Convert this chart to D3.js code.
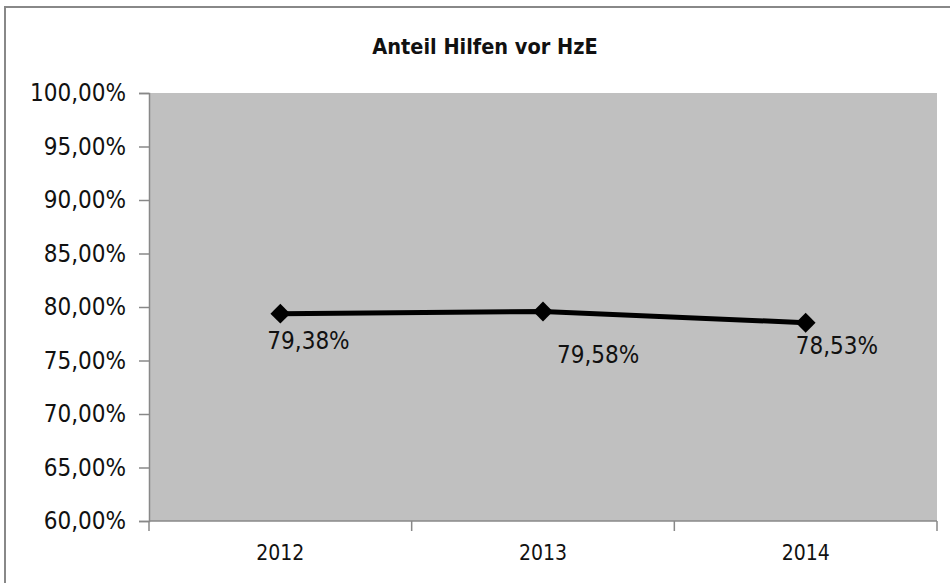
<!DOCTYPE html>
<html>
<head>
<meta charset="utf-8">
<script src="https://cdn.jsdelivr.net/npm/d3@7"></script>
<style>
  body { margin: 0; background: #fff; }
  .num { font-family: "DejaVu Sans Condensed", "DejaVu Sans", sans-serif; font-stretch: condensed; font-size: 24px; fill: #111; }
  .narrow { font-family: "Liberation Sans Narrow", "DejaVu Sans Condensed", sans-serif; font-stretch: condensed; fill: #111; }
</style>
</head>
<body>
<div id="chart"></div>
<script>
const title = "Anteil Hilfen vor HzE"
const years = ["2012", "2013", "2014"]
const shares = [79.38, 79.58, 78.53]
const yTicks = [60, 65, 70, 75, 80, 85, 90, 95, 100]

// where excel put the data labels, relative to the marker
const labelOffsets = [[-13, 35], [14, 52], [-10, 31]]

const W = 950, H = 583
const margin = { top: 93, right: 13, bottom: 62, left: 149 },
    width = W - margin.left - margin.right,
    height = H - margin.top - margin.bottom

const fmt = v => v.toFixed(2).replace(".", ",") + "%"

var svg = d3.select("#chart")
    .append("svg")
    .attr("width", W)
    .attr("height", H)

// outer chart frame
svg.append("rect")
    .attr("x", 5).attr("y", 7)
    .attr("width", W + 10).attr("height", H + 10)
    .attr("fill", "none")
    .attr("stroke", "#888")
    .attr("stroke-width", 2)

svg.append("text")
    .attr("class", "narrow")
    .attr("x", 485).attr("y", 54)
    .attr("text-anchor", "middle")
    .style("font-size", "21.5px")
    .style("font-weight", "bold")
    .text(title)

var g = svg.append("g")
    .attr("transform", "translate(" + margin.left + "," + margin.top + ")")

var x = d3.scaleBand()
    .domain(years)
    .range([0, width])

var y = d3.scaleLinear()
    .domain([60, 100])
    .range([height, 0])

// plot area
g.append("rect")
    .attr("width", width)
    .attr("height", height)
    .attr("fill", "#c0c0c0")

// Y axis
var yAxis = g.append("g")
    .call(d3.axisLeft(y).tickValues(yTicks).tickSize(10).tickPadding(13).tickFormat(fmt))
yAxis.select(".domain").attr("stroke", "#888").attr("stroke-width", 1.5)
yAxis.selectAll("line").attr("stroke", "#888").attr("stroke-width", 1.5)
yAxis.selectAll("text").attr("class", "num").attr("font-family", null).attr("font-size", null)

// X axis, ticks between the categories
var xAxis = g.append("g")
    .attr("transform", "translate(0," + height + ")")
xAxis.append("line")
    .attr("x1", 0).attr("x2", width)
    .attr("stroke", "#888").attr("stroke-width", 1.5)
xAxis.selectAll("tick")
    .data(years.concat(["end"]))
    .enter()
    .append("line")
    .attr("x1", (d, i) => i < years.length ? x(d) : width)
    .attr("x2", (d, i) => i < years.length ? x(d) : width)
    .attr("y1", 0).attr("y2", 10)
    .attr("stroke", "#888").attr("stroke-width", 1.5)
xAxis.selectAll("label")
    .data(years)
    .enter()
    .append("text")
    .attr("class", "narrow")
    .attr("x", d => x(d) + x.bandwidth() / 2)
    .attr("y", 39)
    .attr("text-anchor", "middle")
    .style("font-size", "21px")
    .text(d => d)

const cx = i => x(years[i]) + x.bandwidth() / 2

// line
g.append("path")
    .datum(shares)
    .attr("fill", "none")
    .attr("stroke", "#000")
    .attr("stroke-width", 5)
    .attr("d", d3.line().x((d, i) => cx(i)).y(d => y(d)))

// diamond markers
g.selectAll("mark")
    .data(shares)
    .enter()
    .append("path")
    .attr("d", d3.symbol().type(d3.symbolDiamond2).size(250))
    .attr("transform", (d, i) => "translate(" + cx(i) + "," + y(d) + ")")
    .attr("fill", "#000")

// data labels
g.selectAll("lbl")
    .data(shares)
    .enter()
    .append("text")
    .attr("class", "num")
    .attr("x", (d, i) => cx(i) + labelOffsets[i][0])
    .attr("y", (d, i) => y(d) + labelOffsets[i][1])
    .text(d => fmt(d))
</script>
</body>
</html>
